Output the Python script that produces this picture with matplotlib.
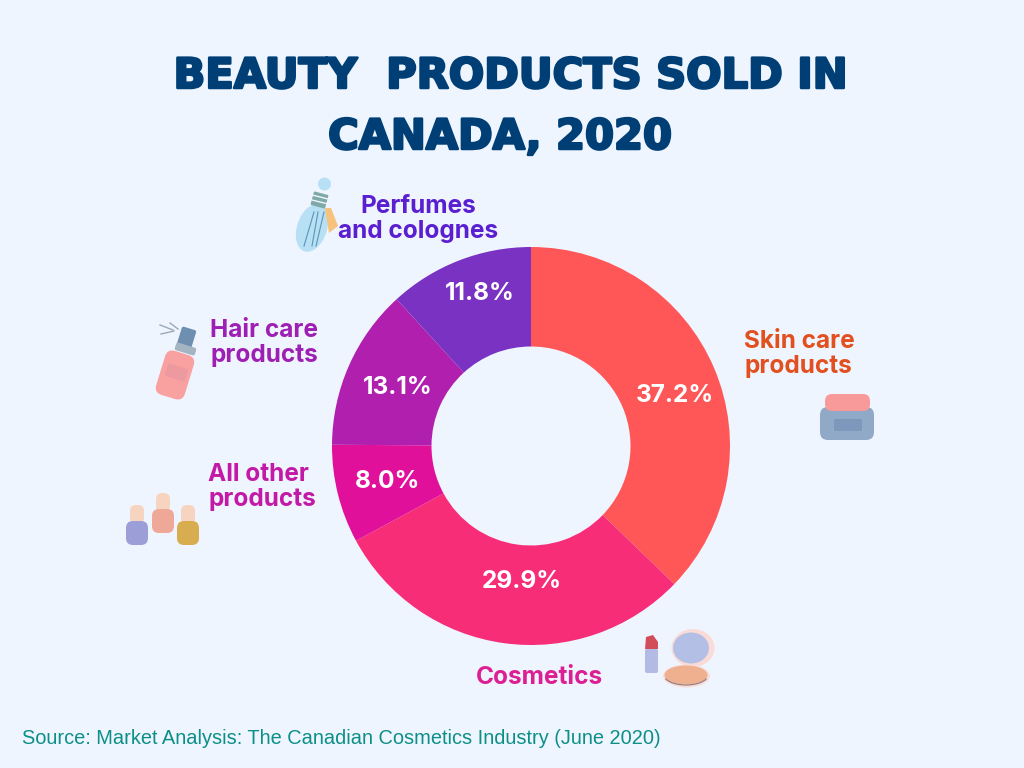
import matplotlib
matplotlib.use("Agg")
import matplotlib.pyplot as plt
import matplotlib.patheffects as pe
from matplotlib.patches import Arc, Ellipse, FancyBboxPatch, Polygon, Circle
from matplotlib.transforms import Affine2D

categories = ["Skin care\nproducts", "Cosmetics", "All other\nproducts", "Hair care\nproducts", "Perfumes\nand colognes"]
shares = [37.2, 29.9, 8.0, 13.1, 11.8]
slice_colors = ["#ff5757", "#f72d78", "#e0109a", "#b01fae", "#7a32c2"]
label_colors = ["#e2501f", "#dd1f94", "#c21aa6", "#9d1fb3", "#5a1fd0"]

BG = "#eff5ff"
NAVY = "#003f75"

fig = plt.figure(figsize=(10.24, 7.68), dpi=100, facecolor=BG)

# donut, placed in pixels: centre 531,446 radius 199
cx, cy, r = 531, 446, 199
pie_ax = fig.add_axes([(cx - r) / 1024, (768 - cy - r) / 768, 2 * r / 1024, 2 * r / 768])
pie_ax.pie(shares, colors=slice_colors, startangle=90, counterclock=False, radius=1.0,
           wedgeprops=dict(width=0.5, linewidth=0))
pie_ax.set_xlim(-1, 1)
pie_ax.set_ylim(-1, 1)
pie_ax.axis("off")

# overlay in pixel coordinates for the text and the little icons
ax = fig.add_axes([0, 0, 1, 1])
ax.set_xlim(0, 1024)
ax.set_ylim(768, 0)
ax.axis("off")
ax.patch.set_alpha(0)

thick = [pe.withStroke(linewidth=1.8, foreground=NAVY)]
ax.text(511, 76, "BEAUTY  PRODUCTS SOLD IN", ha="center", va="center", fontsize=30,
        fontweight="bold", family="DejaVu Sans", color=NAVY, path_effects=thick)
ax.text(500, 137, "CANADA, 2020", ha="center", va="center", fontsize=30,
        fontweight="bold", family="DejaVu Sans", color=NAVY, path_effects=thick)

pct_pos = [(675, 396), (522, 581), (388, 482), (398, 387), (480, 293)]
for val, (x, y) in zip(shares, pct_pos):
    ax.text(x, y, f"{val:.1f}%", ha="center", va="center", fontsize=17.6,
            fontweight="bold", family="Inter", color="white")

label_pos = [(744, 354, "left"), (539, 677, "center"), (208, 487, "left"),
             (210, 343, "left"), (418, 219, "center")]
for name, col, (x, y, ha) in zip(categories, label_colors, label_pos):
    ax.text(x, y, name, ha=ha, va="center", fontsize=17.6, fontweight="bold", family="Inter",
            color=col, linespacing=1.1, multialignment=ha)

ax.text(22, 738, "Source: Market Analysis: The Canadian Cosmetics Industry (June 2020)",
        ha="left", va="center", fontsize=14.45, family="Liberation Sans", color="#0c8f88")


def box(x, y, w, h, col, rad=3, rot=0):
    p = FancyBboxPatch((x, y), w, h, boxstyle=f"round,pad=0,rounding_size={rad}", fc=col, ec="none")
    if rot:
        p.set_transform(Affine2D().rotate_deg_around(x + w / 2, y + h / 2, rot) + ax.transData)
    ax.add_patch(p)


# jar
box(820, 407, 54, 33, "#8fa9c6", 8)
box(834, 419, 28, 12, "#7e97bd", 1)
box(825, 394, 45, 17, "#f99a9a", 7)

# lipstick and compact
box(645, 649, 13, 24, "#b3bbe4", 2)
ax.add_patch(Polygon([(645, 649), (646, 637), (653, 635), (658, 642), (658, 649)], fc="#d24d5a", ec="none"))
ax.add_patch(Ellipse((693, 648), 43, 38, fc="#f9dcd8", ec="none"))
ax.add_patch(Ellipse((691, 648), 36, 31, fc="#b4bfe6", ec="none"))
ax.add_patch(Ellipse((686.5, 676), 47, 23, fc="#f9dcd8", ec="none"))
ax.add_patch(Ellipse((686, 675), 43, 19, fc="#eeb08e", ec="none"))
ax.add_patch(Arc((686, 675), 44, 20, theta1=10, theta2=170, color="#8a7a80", lw=0.8))

# nail polish bottles
bottle_pos = [(137, 505, "#9c9ed8"), (163, 493, "#efa898"), (188, 505, "#d8ad50")]
for x, y, col in bottle_pos:
    box(x - 7, y, 14, 19, "#f7d4c0", 6)
    box(x - 11, y + 16, 22, 24, col, 7)

# hair spray
box(160, 352, 30, 46, "#f9a0a0", 8, rot=17)
box(166, 366, 21, 13, "#ec9aa0", 2, rot=17)
box(179, 328, 15, 20, "#6f8fb0", 2, rot=17)
box(175, 345, 21, 8, "#a4b4c2", 2, rot=17)
for x0, y0, x1, y1 in [(160, 325, 173, 330), (161, 334, 174, 331), (170, 323, 178, 329)]:
    ax.plot([x0, x1], [y0, y1], color="#9ba8b8", lw=1)

# perfume atomiser
ax.add_patch(Ellipse((312, 228), 30, 49, angle=18, fc="#b8e0f5", ec="none"))
ax.add_patch(Polygon([(317, 206), (327, 209), (322, 232), (306, 225)], fc="#b8e0f5", ec="none"))
ax.add_patch(Circle((324.5, 184), 6.5, fc="#b8e0f5", ec="none"))
box(312, 193, 15, 14, "#7fa8a8", 1, rot=15)
for y in [197, 202]:
    ax.plot([312, 328], [y - 2, y + 2], color="#eff5ff", lw=1)
ax.add_patch(Polygon([(325, 208), (331, 208), (338, 226), (329, 233)], fc="#f7c27c", ec="none"))
for x0, x1 in [(314, 304), (318, 312), (324, 316)]:
    ax.plot([x0, x1], [212, 246], color="#5d93b5", lw=0.8)

fig.savefig("out.png", dpi=100, facecolor=BG)
